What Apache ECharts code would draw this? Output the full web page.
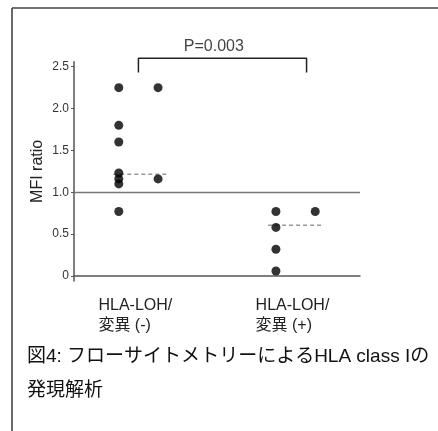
<!DOCTYPE html>
<html><head><meta charset="utf-8">
<script src="https://cdn.jsdelivr.net/npm/echarts@6/dist/echarts.min.js"></script>
<style>html,body{margin:0;padding:0;background:#fff}#c{width:438px;height:431px}</style>
</head><body><div id="c"></div>
<script>
// categories and their x centers on the hidden value axis
var categories = ['HLA-LOH/\n変異 (-)', 'HLA-LOH/\n変異 (+)'];
var categoryPos = [1, 2];
// points: [x position (category center +/- column offset), MFI ratio]
var groupNeg = [[0.875, 2.25], [0.875, 1.80], [0.875, 1.60], [0.875, 1.23], [0.875, 1.16], [0.875, 1.10], [0.875, 0.77], [1.125, 2.25], [1.125, 1.16]];
var groupPos = [[1.875, 0.77], [1.875, 0.58], [1.875, 0.32], [1.875, 0.06], [2.125, 0.77]];
// median dashes
var medianNeg = [[0.84, 1.215], [1.18, 1.215]];
var medianPos = [[1.825, 0.605], [2.175, 0.605]];
var refValue = 1.0;
var yTicks = [0, 0.5, 1.0, 1.5, 2.0, 2.5];
// significance bracket
var bracket = [[1.0, 2.43], [1.0, 2.60], [2.07, 2.60], [2.07, 2.43]];
var pLabel = [[1.48, 2.74, 'P=0.003']];
var caption = '図4: フローサイトメトリーによるHLA class Iの\n発現解析';

var FONT = '"Liberation Sans", Arial, "Noto Sans CJK JP", sans-serif';
var chart = echarts.init(document.getElementById('c'), null, {renderer: 'canvas'});
chart.setOption({
  backgroundColor: '#fff',
  animation: false,
  textStyle: {fontFamily: FONT},
  title: {
    text: caption, left: 27, top: 340, padding: 0,
    textStyle: {fontFamily: FONT, fontSize: 19, fontWeight: 'normal', color: '#111', lineHeight: 34}
  },
  graphic: [
    {type: 'line', shape: {x1: 12, y1: 8, x2: 438, y2: 8}, style: {stroke: '#444', lineWidth: 1.6}},
    {type: 'line', shape: {x1: 12, y1: 8, x2: 12, y2: 431}, style: {stroke: '#444', lineWidth: 1.6}}
  ],
  grid: {left: 74, right: 78, top: 61.7, bottom: 150, containLabel: false},
  xAxis: {
    type: 'value', min: 0.59, max: 2.41,
    splitLine: {show: false},
    axisLine: {show: true, lineStyle: {color: '#555', width: 1.5}},
    axisTick: {show: false},
    axisLabel: {
      customValues: categoryPos,
      margin: 15,
      formatter: function (v) {
        var i = categoryPos.indexOf(v);
        if (i < 0) return '';
        return categories[i].split('\n').map(function (s) { return '{a|' + s + '}'; }).join('\n');
      },
      rich: {a: {width: 80, align: 'left', fontSize: 16, lineHeight: 20, color: '#222', fontFamily: FONT}}
    }
  },
  yAxis: {
    type: 'value', min: -0.06, max: 2.56,
    name: 'MFI ratio', nameLocation: 'middle', nameGap: 28, nameMoveOverlap: false,
    nameTextStyle: {fontSize: 16, color: '#222', fontFamily: FONT},
    splitLine: {show: false},
    axisLine: {show: true, lineStyle: {color: '#555', width: 1.5}},
    axisTick: {show: true, customValues: yTicks, length: 3, lineStyle: {color: '#555'}},
    axisLabel: {
      customValues: yTicks, margin: 5, fontSize: 12, color: '#333',
      formatter: function (v) { return v === 0 ? '0' : v.toFixed(1); }
    }
  },
  series: [
    {
      type: 'scatter', data: groupNeg.concat(groupPos), symbolSize: 9,
      itemStyle: {color: '#000'}, z: 5,
      markLine: {
        silent: true, symbol: 'none', label: {show: false},
        lineStyle: {color: '#777', type: 'solid', width: 1.3},
        data: [{yAxis: refValue}]
      }
    },
    {type: 'line', data: medianNeg, symbol: 'none', lineStyle: {color: '#999', type: [4, 3], width: 1.5}, z: 3},
    {type: 'line', data: medianPos, symbol: 'none', lineStyle: {color: '#999', type: [4, 3], width: 1.5}, z: 3},
    {type: 'line', data: bracket, symbol: 'none', clip: false, lineStyle: {color: '#222', width: 1.5}},
    {
      type: 'scatter', data: pLabel, symbolSize: 0, clip: false,
      label: {show: true, position: 'inside', formatter: function (p) { return p.data[2]; },
        fontSize: 16, color: '#111', fontFamily: FONT}
    }
  ]
});
</script></body></html>
